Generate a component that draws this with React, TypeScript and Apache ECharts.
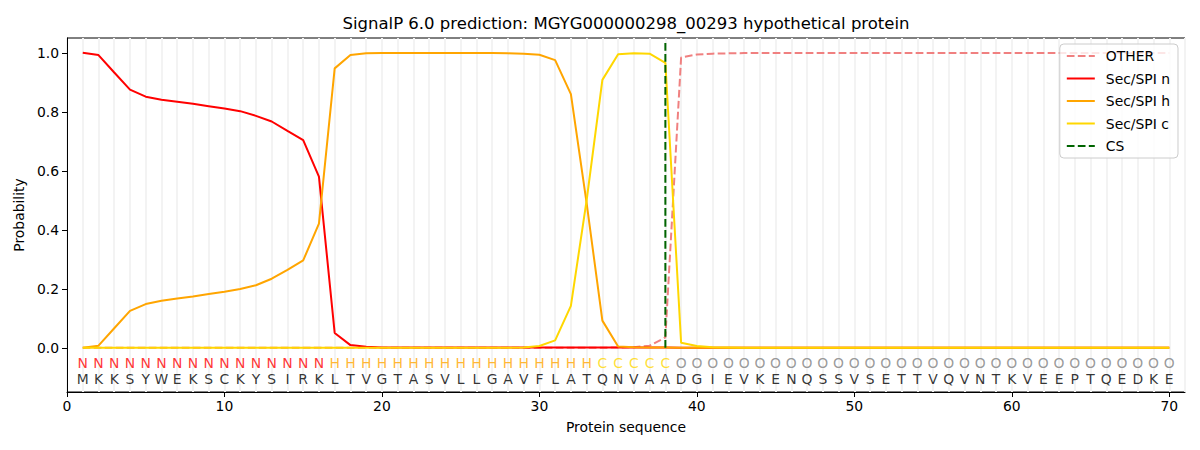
import React, { useEffect, useRef } from "react";
import * as echarts from "echarts";

const sequence = "MKKSYWEKSCKYSIRKLTVGTASVLLGAVFLATQNVAADGIEVKENQSSVSETTVQVNTKVEEPTQEDKE".split("");
const regionLabels = "NNNNNNNNNNNNNNNNHHHHHHHHHHHHHHHHHCCCCCOOOOOOOOOOOOOOOOOOOOOOOOOOOOOOOO".split("");

const otherProb = [
  0, 0, 0, 0, 0, 0, 0, 0, 0, 0, 0, 0, 0, 0, 0, 0, 0, 0, 0, 0,
  0, 0, 0, 0, 0, 0, 0, 0, 0, 0, 0, 0, 0, 0, 0.001, 0.002, 0.007, 0.035, 0.984, 0.994,
  0.997, 0.998, 0.999, 0.999, 0.999, 0.999, 0.999, 0.999, 0.999, 0.999, 0.999, 0.999, 0.999, 0.999, 0.999, 0.999, 0.999, 0.999, 0.999, 0.999,
  0.999, 0.999, 0.999, 0.999, 0.999, 0.999, 0.999, 0.999, 0.999, 0.999,
];
const secN = [
  1.0, 0.992, 0.933, 0.875, 0.851, 0.841, 0.834, 0.827, 0.819, 0.811, 0.802, 0.786, 0.767, 0.735, 0.704, 0.58, 0.05, 0.009, 0.003, 0.001,
  0.001, 0.001, 0.001, 0.001, 0.001, 0.001, 0.001, 0.001, 0.001, 0.001, 0.001, 0.001, 0.001, 0.001, 0.001, 0.001, 0.001, 0.001, 0, 0,
  0, 0, 0, 0, 0, 0, 0, 0, 0, 0, 0, 0, 0, 0, 0, 0, 0, 0, 0, 0,
  0, 0, 0, 0, 0, 0, 0, 0, 0, 0,
];
const secH = [
  0, 0.007, 0.066, 0.125, 0.148, 0.159, 0.167, 0.174, 0.182, 0.19, 0.199, 0.212, 0.234, 0.264, 0.296, 0.421, 0.947, 0.992, 0.998, 0.999,
  0.999, 0.999, 0.999, 0.999, 0.999, 0.999, 0.999, 0.998, 0.997, 0.993, 0.975, 0.86, 0.49, 0.092, 0.004, 0.002, 0.001, 0.001, 0, 0,
  0, 0, 0, 0, 0, 0, 0, 0, 0, 0, 0, 0, 0, 0, 0, 0, 0, 0, 0, 0,
  0, 0, 0, 0, 0, 0, 0, 0, 0, 0,
];
const secC = [
  0, 0, 0, 0, 0, 0, 0, 0, 0, 0, 0, 0, 0, 0, 0, 0, 0, 0, 0, 0,
  0, 0, 0, 0, 0, 0, 0, 0, 0.001, 0.006, 0.025, 0.142, 0.5, 0.908, 0.995, 0.998, 0.997, 0.966, 0.017, 0.006,
  0.002, 0.001, 0, 0, 0, 0, 0, 0, 0, 0, 0, 0, 0, 0, 0, 0, 0, 0, 0, 0,
  0, 0, 0, 0, 0, 0, 0, 0, 0, 0,
];
const csPosition = 38;
const csTop = 1.04;

const xTicks = [0, 10, 20, 30, 40, 50, 60, 70];
const yTicks = [0, 0.2, 0.4, 0.6, 0.8, 1.0];

const labelColors: Record<string, string> = { N: "#ff0000", H: "#ffa500", C: "#ffd700", O: "#808080" };
const FONT = "DejaVu Sans";

export default function App() {
  const ref = useRef<HTMLDivElement>(null);
  useEffect(() => {
    if (!ref.current) return;
    const chart = echarts.init(ref.current, undefined, { renderer: "svg" });
    const toXY = (arr: number[]) => arr.map((v, i) => [i + 1, v]);
    const dashed = [7.7, 3.3];
    const option: any = {
      animation: false,
      backgroundColor: "#ffffff",
      textStyle: { fontFamily: FONT },
      graphic: [
        {
          type: "text",
          x: 626,
          y: 23,
          style: {
            text: "SignalP 6.0 prediction: MGYG000000298_00293 hypothetical protein",
            fontFamily: FONT,
            fontSize: 16.5,
            fill: "#000",
            textAlign: "center",
            textVerticalAlign: "middle",
          },
        },
      ],
      grid: { left: 67, right: 15, top: 38, bottom: 58, show: true, borderColor: "#000", borderWidth: 1, containLabel: false },
      legend: {
        orient: "vertical",
        right: 22,
        top: 44,
        data: ["OTHER", "Sec/SPI n", "Sec/SPI h", "Sec/SPI c", "CS"],
        itemWidth: 28,
        itemHeight: 14,
        itemGap: 8.5,
        padding: [5, 8, 5, 6],
        backgroundColor: "rgba(255,255,255,0.8)",
        borderColor: "#cccccc",
        borderWidth: 1,
        borderRadius: 4,
        itemStyle: { opacity: 0 },
        textStyle: { fontFamily: FONT, fontSize: 13.9, color: "#000", padding: [0, 0, 0, 6] },
      },
      xAxis: [
        {
          type: "value",
          min: 0,
          max: 71,
          name: "Protein sequence",
          nameLocation: "middle",
          nameGap: 28,
          nameTextStyle: { fontFamily: FONT, fontSize: 13.9, color: "#000" },
          axisLine: { show: true, onZero: false, lineStyle: { color: "#000", width: 1 } },
          axisTick: { show: true, length: 5, lineStyle: { color: "#000" }, customValues: xTicks },
          axisLabel: { fontFamily: FONT, fontSize: 13.9, color: "#000", margin: 7, customValues: xTicks },
          splitLine: { show: false },
        },
        {
          type: "value",
          min: 0,
          max: 71,
          interval: 1,
          position: "bottom",
          axisLine: { show: false },
          axisTick: { show: false },
          axisLabel: { show: false },
          splitLine: { show: true, lineStyle: { color: "#f3f3f3", width: 2 } },
        },
      ],
      yAxis: {
        type: "value",
        min: -0.15,
        max: 1.05,
        name: "Probability",
        nameLocation: "middle",
        nameGap: 38,
        nameTextStyle: { fontFamily: FONT, fontSize: 13.9, color: "#000" },
        axisLine: { show: true, onZero: false, lineStyle: { color: "#000", width: 1 } },
        axisTick: { show: true, length: 5, lineStyle: { color: "#000" }, customValues: yTicks },
        axisLabel: {
          fontFamily: FONT,
          fontSize: 13.9,
          color: "#000",
          margin: 8,
          customValues: yTicks,
          formatter: (v: number) => v.toFixed(1),
        },
        splitLine: { show: false },
      },
      series: [
        {
          name: "OTHER",
          type: "line",
          data: toXY(otherProb),
          symbol: "none",
          lineStyle: { color: "#f08080", width: 2, type: dashed },
          itemStyle: { color: "#f08080" },
          z: 2,
        },
        {
          name: "Sec/SPI n",
          type: "line",
          data: toXY(secN),
          symbol: "none",
          lineStyle: { color: "#ff0000", width: 2 },
          itemStyle: { color: "#ff0000" },
          z: 3,
        },
        {
          name: "Sec/SPI h",
          type: "line",
          data: toXY(secH),
          symbol: "none",
          lineStyle: { color: "#ffa500", width: 2 },
          itemStyle: { color: "#ffa500" },
          z: 4,
        },
        {
          name: "Sec/SPI c",
          type: "line",
          data: toXY(secC),
          symbol: "none",
          lineStyle: { color: "#ffd700", width: 2 },
          itemStyle: { color: "#ffd700" },
          z: 5,
        },
        {
          name: "CS",
          type: "line",
          data: [
            [csPosition, 0],
            [csPosition, csTop],
          ],
          symbol: "none",
          lineStyle: { color: "#006400", width: 2, type: dashed },
          itemStyle: { color: "#006400" },
          z: 6,
        },
        {
          name: "regions",
          type: "scatter",
          symbolSize: 0,
          silent: true,
          data: regionLabels.map((l, i) => ({
            value: [i + 1, -0.05, l],
            label: { color: labelColors[l] },
          })),
          label: {
            show: true,
            position: "inside",
            formatter: (p: any) => p.value[2],
            fontFamily: FONT,
            fontSize: 13.9,
          },
          z: 7,
        },
        {
          name: "sequence",
          type: "scatter",
          symbolSize: 0,
          silent: true,
          data: sequence.map((s, i) => [i + 1, -0.105, s]),
          label: {
            show: true,
            position: "inside",
            formatter: (p: any) => p.value[2],
            fontFamily: FONT,
            fontSize: 13.9,
            color: "#000",
          },
          z: 7,
        },
      ],
    };
    chart.setOption(option);
    return () => chart.dispose();
  }, []);
  return (
    <div
      ref={ref}
      style={{ position: "fixed", left: 0, top: 0, width: 1200, height: 450 }}
    />
  );
}
